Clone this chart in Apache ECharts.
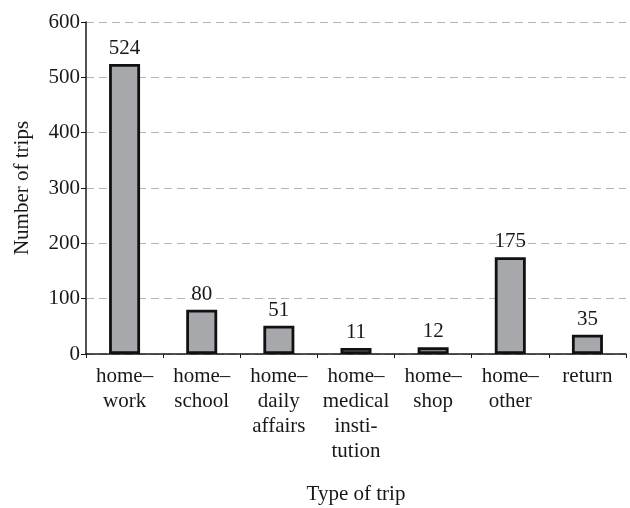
<!DOCTYPE html>
<html>
<head>
<meta charset="utf-8">
<script src="https://cdn.jsdelivr.net/npm/echarts@6/dist/echarts.min.js"></script>
<style>
  html, body { margin: 0; padding: 0; background: #fff; }
  #chart { width: 630px; height: 508px; }
</style>
</head>
<body>
<div id="chart"></div>
<script>
// 类别与数值
const categories = [
  'home–\nwork',
  'home–\nschool',
  'home–\ndaily\naffairs',
  'home–\nmedical\ninsti-\ntution',
  'home–\nshop',
  'home–\nother',
  'return'
];
const tripCounts = [524, 80, 51, 11, 12, 175, 35];
const yTicks = [0, 100, 200, 300, 400, 500, 600];

const fontFamily = '"Liberation Serif", "DejaVu Serif", serif';
const axisColor = '#1a1718';
const barColor = '#a7a8ab';
const fontSize = 21;

const myChart = echarts.init(document.getElementById('chart'));
const option = {
  animation: false,
  textStyle: { fontFamily: fontFamily },
  grid: { left: 86, right: 4, top: 22, bottom: 154, containLabel: false, outerBoundsMode: 'none' },
  xAxis: {
    type: 'category',
    data: categories,
    name: 'Type of trip',
    nameLocation: 'middle',
    nameGap: 130,
    nameTextStyle: { fontSize: fontSize, color: axisColor, fontFamily: fontFamily },
    axisLine: { lineStyle: { color: axisColor, width: 1.5 } },
    axisTick: { show: true, length: 4, lineStyle: { color: axisColor } },
    axisLabel: {
      interval: 0,
      margin: 10,
      fontSize: fontSize,
      lineHeight: 25,
      color: axisColor,
      fontFamily: fontFamily,
      align: 'center'
    }
  },
  yAxis: {
    type: 'value',
    min: yTicks[0],
    max: yTicks[yTicks.length - 1],
    interval: 100,
    name: 'Number of trips',
    nameLocation: 'middle',
    nameGap: 53,
    nameTextStyle: { fontSize: fontSize, color: axisColor, fontFamily: fontFamily },
    axisLine: { show: true, lineStyle: { color: axisColor, width: 1.5 } },
    axisTick: { show: true, length: 5, lineStyle: { color: axisColor } },
    axisLabel: { fontSize: fontSize, color: axisColor, margin: 6, fontFamily: fontFamily },
    splitLine: {
      show: true,
      lineStyle: { color: '#b4b4b4', type: [8, 5], width: 1.2 }
    }
  },
  series: [
    {
      type: 'bar',
      data: tripCounts,
      barWidth: 31,
      itemStyle: { color: barColor, borderColor: '#111', borderWidth: 2.8 },
      label: {
        show: true,
        position: 'top',
        distance: 5,
        fontSize: fontSize,
        color: axisColor,
        fontFamily: fontFamily
      }
    }
  ]
};
myChart.setOption(option);
</script>
</body>
</html>
